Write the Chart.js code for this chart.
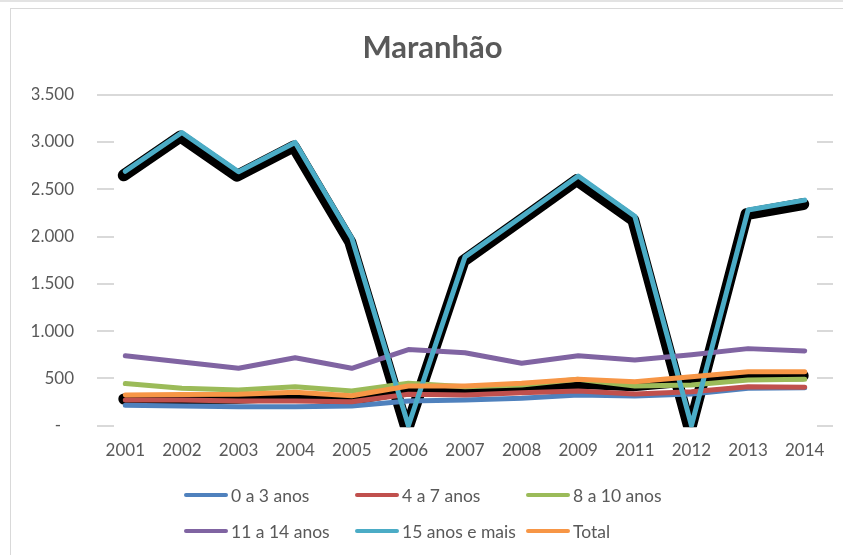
<!DOCTYPE html>
<html>
<head>
<meta charset="utf-8">
<script src="https://cdn.jsdelivr.net/npm/chart.js@4/dist/chart.umd.min.js"></script>
<style>
  html, body { margin: 0; padding: 0; background: #fff; }
  body { width: 843px; height: 555px; position: relative; overflow: hidden; font-family: Lato, "Noto Sans", sans-serif; }
  #topline { position: absolute; left: 0; top: 0; width: 843px; height: 2px; background: #e3e3e3; }
  #frame { position: absolute; left: 10px; top: 8px; width: 900px; height: 600px; border-left: 1.5px solid #d9d9d9; border-top: 1.5px solid #d9d9d9; }
  #c { position: absolute; left: 0; top: 0; }
  #legend { position: absolute; left: 0; top: 0; width: 843px; height: 555px; pointer-events: none; }
  .item { position: absolute; height: 20px; display: flex; align-items: center; color: #595959; font-size: 17.5px; white-space: nowrap; }
  .swatch { width: 44px; height: 4.5px; border-radius: 3px; margin-right: 3px; }
</style>
</head>
<body>
<div id="topline"></div>
<div id="frame"></div>
<canvas id="c" width="843" height="555"></canvas>
<div id="legend"></div>
<script>
// ---- data ----
const categories = ['2001','2002','2003','2004','2005','2006','2007','2008','2009','2011','2012','2013','2014'];
const s0a3   = [215, 208, 201, 201, 208, 261, 272, 290, 325, 314, 335, 395, 400];
const s4a7   = [272, 272, 262, 262, 254, 332, 325, 349, 367, 335, 360, 413, 406];
const s8a10  = [445, 395, 378, 413, 367, 450, 413, 430, 490, 420, 430, 483, 490];
const s11a14 = [740, 674, 607, 719, 607, 805, 772, 660, 740, 695, 750, 815, 790];
const s15    = [2690, 3100, 2685, 2995, 1985, 0, 1785, 2210, 2640, 2215, 0, 2280, 2385];
const sTotal = [325, 330, 332, 353, 317, 420, 420, 448, 490, 465, 518, 571, 571];
const seriesNames = ['0 a 3 anos', '4 a 7 anos', '8 a 10 anos', '11 a 14 anos', '15 anos e mais', 'Total'];
const seriesColors = ['#4F81BD', '#C0504D', '#9BBB59', '#8064A2', '#4BACC6', '#F79646'];
const yTicks = [0, 500, 1000, 1500, 2000, 2500, 3000, 3500];
const yTickLabels = ['-   ', '500', '1.000', '1.500', '2.000', '2.500', '3.000', '3.500'];
const titleText = 'Maranhão';

const seriesData = [s0a3, s4a7, s8a10, s11a14, s15, sTotal];
const textColor = '#595959';

function lineDs(i, order) {
  return {
    label: seriesNames[i], data: seriesData[i],
    borderColor: seriesColors[i], backgroundColor: seriesColors[i],
    borderWidth: 5, pointRadius: 0, tension: 0, fill: false,
    borderCapStyle: 'round', borderJoinStyle: 'round',
    clip: {left: false, right: false, top: false, bottom: 1.5},
    order: order
  };
}
function shadowDs(i, order, width) {
  return {
    label: '_shadow', data: seriesData[i],
    borderColor: '#000', backgroundColor: '#000',
    borderWidth: width, pointRadius: 0, tension: 0, fill: false,
    borderCapStyle: 'round', borderJoinStyle: 'round',
    clip: {left: false, right: false, top: false, bottom: -2.5},
    order: order, isShadow: true
  };
}

const datasets = [
  lineDs(0, 6), lineDs(1, 5), lineDs(2, 4), lineDs(3, 3), lineDs(4, 2), lineDs(5, 1),
  shadowDs(4, 8, 12), shadowDs(5, 7, 11)
];

const shadowPlugin = {
  id: 'shadowShift',
  beforeDatasetDraw(chart, args) {
    const ds = chart.data.datasets[args.index];
    if (ds.isShadow) { chart.ctx.save(); chart.ctx.translate(-1.5, 4); }
  },
  afterDatasetDraw(chart, args) {
    const ds = chart.data.datasets[args.index];
    if (ds.isShadow) { chart.ctx.restore(); }
  }
};

const stubPlugin = {
  id: 'stubs',
  beforeDatasetsDraw(chart) {
    const ctx = chart.ctx, a = chart.chartArea, y = chart.scales.y;
    ctx.save();
    ctx.strokeStyle = '#d9d9d9';
    ctx.lineWidth = 2;
    const top = yTicks[yTicks.length - 1];
    yTicks.forEach(v => {
      const py = Math.round(y.getPixelForValue(v));
      ctx.beginPath();
      if (v === top) {
        ctx.moveTo(a.left, py); ctx.lineTo(a.right, py);
      } else {
        ctx.moveTo(a.left, py); ctx.lineTo(a.left + 17, py);
        ctx.moveTo(a.right - 16, py); ctx.lineTo(a.right, py);
      }
      ctx.stroke();
    });
    ctx.restore();
  }
};

new Chart(document.getElementById('c'), {
  type: 'line',
  data: { labels: categories, datasets: datasets },
  options: {
    responsive: false, animation: false, devicePixelRatio: 1,
    layout: { padding: { left: 32, right: 10, top: 0, bottom: 0 } },
    plugins: {
      legend: { display: false },
      tooltip: { enabled: false },
      title: {
        display: true, text: titleText, color: textColor,
        font: { family: 'Lato', size: 31, weight: 'bold', lineHeight: 1.2 },
        padding: { top: 29, bottom: 28.5 }
      }
    },
    scales: {
      x: {
        type: 'category', offset: true,
        grid: { display: false, drawTicks: false },
        border: { display: false },
        ticks: { color: textColor, font: { family: 'Lato', size: 17 }, padding: 15, maxRotation: 0, autoSkip: false },
        afterFit(s) { s.height = 555 - 425.7; }
      },
      y: {
        min: 0, max: 3500,
        grid: { display: false, drawTicks: false },
        border: { display: false },
        ticks: {
          stepSize: 500, color: textColor, font: { family: 'Lato', size: 17 }, padding: 23,
          callback: (v) => { const k = yTicks.indexOf(v); return k >= 0 ? yTickLabels[k] : ''; }
        },
        afterFit(s) { s.width = 65; }
      }
    }
  },
  plugins: [shadowPlugin, stubPlugin]
});

// ---- legend (HTML, built from the series arrays) ----
const legend = document.getElementById('legend');
seriesNames.forEach((name, i) => {
  const row = Math.floor(i / 3), col = i % 3;
  const el = document.createElement('div');
  el.className = 'item';
  el.style.left = (184 + col * 171) + 'px';
  el.style.top = (485 + row * 36) + 'px';
  const sw = document.createElement('span');
  sw.className = 'swatch';
  sw.style.background = seriesColors[i];
  const tx = document.createElement('span');
  tx.textContent = name;
  el.appendChild(sw); el.appendChild(tx);
  legend.appendChild(el);
});
</script>
</body>
</html>
